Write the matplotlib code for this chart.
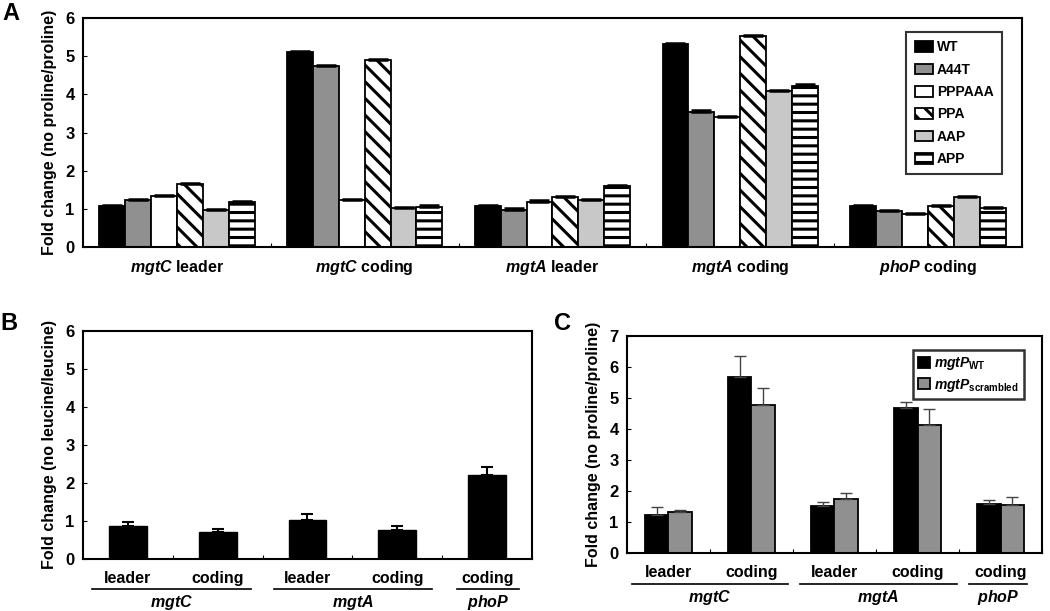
import numpy as np
import matplotlib
matplotlib.use("Agg")
import matplotlib.pyplot as plt
from matplotlib.transforms import blended_transform_factory, ScaledTranslation

plt.rcParams['font.family'] = ['Liberation Sans', 'DejaVu Sans']
plt.rcParams['font.weight'] = 'bold'
plt.rcParams['axes.labelweight'] = 'bold'
plt.rcParams['mathtext.fontset'] = 'custom'
plt.rcParams['mathtext.it'] = 'Liberation Sans:italic:bold'
plt.rcParams['mathtext.rm'] = 'Liberation Sans:bold'
plt.rcParams['mathtext.bf'] = 'Liberation Sans:bold'
plt.rcParams['hatch.linewidth'] = 2.2

# panel A data
a_cats = [r'$mgtC$ leader', r'$mgtC$ coding', r'$mgtA$ leader', r'$mgtA$ coding', r'$phoP$ coding']
a_series = ['WT', 'A44T', 'PPPAAA', 'PPA', 'AAP', 'APP']
a_wt = [1.08, 5.10, 1.08, 5.32, 1.07]
a_a44t = [1.22, 4.74, 0.98, 3.55, 0.95]
a_pppaaa = [1.33, 1.24, 1.19, 3.41, 0.87]
a_ppa = [1.65, 4.90, 1.30, 5.52, 1.07]
a_aap = [0.97, 1.02, 1.22, 4.09, 1.31]
a_app = [1.17, 1.06, 1.59, 4.23, 1.03]
a_err = [0.03, 0.03, 0.03, 0.03, 0.03]

# panel B data
b_cats = ['leader', 'coding', 'leader', 'coding', 'coding']
b_genes = ['mgtC', 'mgtA', 'phoP']
b_vals = [0.88, 0.71, 1.02, 0.76, 2.22]
b_err = [0.09, 0.08, 0.17, 0.10, 0.20]

# panel C data
c_wt = [1.22, 5.67, 1.51, 4.69, 1.59]
c_wt_err = [0.27, 0.68, 0.14, 0.18, 0.11]
c_scr = [1.31, 4.76, 1.74, 4.12, 1.54]
c_scr_err = [0.08, 0.56, 0.20, 0.52, 0.28]

fig = plt.figure(figsize=(10.5, 6.11), dpi=100)
axA = fig.add_axes([0.079, 0.5957, 0.8943, 0.3748])
axB = fig.add_axes([0.079, 0.0851, 0.4277, 0.3732])
axC = fig.add_axes([0.5971, 0.0949, 0.3953, 0.3552])


def style_axis(ax, ymax, n):
    for s in ax.spines.values():
        s.set_linewidth(1.5)
    ax.set_xlim(-0.5, n - 0.5)
    ax.set_ylim(0, ymax)
    ax.set_yticks(range(0, ymax + 1))
    ax.tick_params(axis='y', direction='in', length=3, width=0.8, pad=6, labelsize=12)
    ax.set_xticks(np.arange(n) + 0.5, minor=True)
    ax.tick_params(axis='x', which='minor', direction='in', length=3, width=0.8)
    ax.tick_params(axis='x', which='major', length=0, pad=8, labelsize=11.5)


# ---- panel A
x = np.arange(len(a_cats))
w = 0.138
a_data = [a_wt, a_a44t, a_pppaaa, a_ppa, a_aap, a_app]
a_colors = ['black', '#909090', 'white', 'white', '#c8c8c8', 'white']
a_hatch = [None, None, None, '\\\\', None, '--']
for i, vals in enumerate(a_data):
    axA.bar(x + (i - 2.5) * w, vals, w, color=a_colors[i], edgecolor='black',
            linewidth=1.3, hatch=a_hatch[i], label=a_series[i],
            yerr=[np.zeros(len(vals)), a_err], capsize=7,
            error_kw=dict(ecolor='black', elinewidth=1.5, capthick=1.8))
style_axis(axA, 6, 5)
axA.set_xticks(x)
axA.set_xticklabels(a_cats)
axA.set_ylabel('Fold change (no proline/proline)', fontsize=11.5, labelpad=6)
legA = axA.legend(loc='upper right', bbox_to_anchor=(0.986, 0.969), fontsize=10,
                  frameon=True, fancybox=False, edgecolor='black',
                  handlelength=1.3, handleheight=0.8, handletextpad=0.3,
                  labelspacing=0.6, borderpad=0.6)
legA.get_frame().set_linewidth(1.5)
fig.text(0.002, 0.997, 'A', fontsize=17, fontweight='bold', va='top')

# ---- panel B
style_axis(axB, 6, 5)
axB.bar(x, b_vals, 0.42, color='black', edgecolor='black',
        yerr=[np.zeros(5), b_err], capsize=4,
        error_kw=dict(ecolor='black', elinewidth=1.5, capthick=1.5))
axB.set_xticks([])
axB.set_ylabel('Fold change (no leucine/leucine)', fontsize=11.5, labelpad=6)
fig.text(0.0, 0.49, 'B', fontsize=17, fontweight='bold', va='top')

# ---- panel C
style_axis(axC, 7, 5)
cw = 0.28
axC.bar(x - cw / 2, c_wt, cw, color='black', edgecolor='black', linewidth=1.3,
        yerr=[np.zeros(5), c_wt_err], capsize=4, label=r'$mgtP_{\rm WT}$',
        error_kw=dict(ecolor='#444444', elinewidth=1, capthick=1))
axC.bar(x + cw / 2, c_scr, cw, color='#909090', edgecolor='black', linewidth=1.3,
        yerr=[np.zeros(5), c_scr_err], capsize=4, label=r'$mgtP_{\rm scrambled}$',
        error_kw=dict(ecolor='#444444', elinewidth=1, capthick=1))
axC.set_xticks([])
axC.set_ylabel('Fold change (no proline/proline)', fontsize=11.5, labelpad=6)
legC = axC.legend(loc='upper right', bbox_to_anchor=(0.973, 0.968), fontsize=10,
                  frameon=True, fancybox=False, edgecolor='black',
                  handlelength=0.8, handleheight=0.8, handletextpad=0.3,
                  labelspacing=0.3, borderpad=0.4)
legC.get_frame().set_linewidth(1.8)
fig.text(0.528, 0.49, 'C', fontsize=17, fontweight='bold', va='top')


def group_labels(ax, spans, lab_dy, line_dy, gene_dy):
    base = blended_transform_factory(ax.transData, ax.transAxes)
    for i, lab in enumerate(b_cats):
        t = base + ScaledTranslation(0, -lab_dy / 100, fig.dpi_scale_trans)
        ax.text(i, 0, lab, transform=t, ha='center', va='center', fontsize=11.5)
    for gene, (x0, x1) in zip(b_genes, spans):
        t = base + ScaledTranslation(0, -line_dy / 100, fig.dpi_scale_trans)
        ax.plot([x0, x1], [0, 0], color='black', lw=1.2, transform=t, clip_on=False)
        t2 = base + ScaledTranslation(0, -gene_dy / 100, fig.dpi_scale_trans)
        ax.text((x0 + x1) / 2, 0, '$' + gene + '$', transform=t2, ha='center',
                va='center', fontsize=11.5)


group_labels(axB, [(-0.4, 1.37), (1.63, 3.39), (3.67, 4.36)], 19, 30, 43)
group_labels(axC, [(-0.44, 1.44), (1.58, 3.47), (3.62, 4.32)], 19, 31, 44)

fig.savefig('out.png', dpi=100)
